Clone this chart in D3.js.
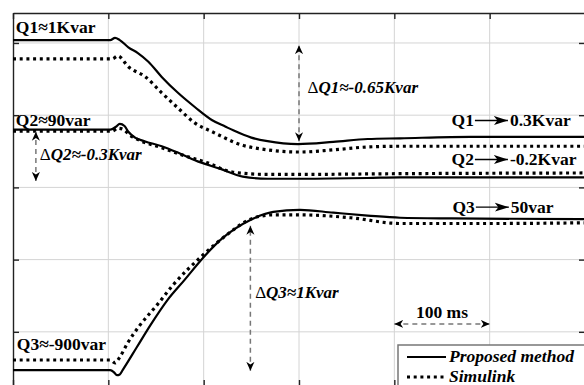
<!DOCTYPE html>
<head>
  <meta charset="utf-8">
  <style>
    body {
      margin: 0;
      background: #fff;
    }
    svg {
      display: block;
    }
  </style>
  <script src="https://cdn.jsdelivr.net/npm/d3@7"></script>
</head>
<body>
<div id=chart-container></div>

<script>
// time in ms, vertical value in grid divisions (the three traces are stacked)
const q1_proposed = [[0,5.04],[102,5.04],[107,5.07],[112,5.04],[121,4.94],[131,4.86],[142,4.74],[156,4.53],[173,4.31],[191,4.11],[209,3.93],[223,3.84],[231,3.79],[250,3.69],[267,3.64],[299,3.60],[336,3.63],[372,3.67],[406,3.68],[480,3.70],[600,3.70]]
const q1_simulink = [[0,4.78],[104,4.78],[110,4.82],[121,4.67],[139,4.53],[156,4.31],[173,4.10],[191,3.89],[209,3.77],[223,3.68],[231,3.63],[267,3.52],[301,3.49],[336,3.52],[372,3.56],[406,3.57],[500,3.57],[600,3.57]]
const q2_proposed = [[0,3.80],[102,3.80],[108,3.84],[112,3.88],[117,3.85],[121,3.77],[128,3.69],[138,3.64],[156,3.57],[175,3.47],[196,3.35],[217,3.26],[241,3.15],[267,3.12],[301,3.12],[372,3.13],[406,3.14],[600,3.14]]
const q2_simulink = [[0,3.78],[104,3.78],[110,3.82],[116,3.80],[123,3.72],[133,3.65],[156,3.55],[175,3.46],[204,3.34],[231,3.21],[267,3.18],[301,3.18],[406,3.19],[600,3.20]]
const q3_proposed = [[0,0.47],[102,0.47],[106,0.44],[109,0.40],[112,0.41],[115,0.47],[130,0.79],[144,1.09],[162,1.44],[180,1.72],[199,2.02],[220,2.30],[249,2.55],[273,2.66],[301,2.69],[336,2.65],[372,2.61],[406,2.58],[460,2.57],[600,2.56]]
const q3_simulink = [[0,0.61],[102,0.61],[107,0.57],[112,0.65],[120,0.84],[133,1.09],[151,1.37],[168,1.65],[199,2.06],[225,2.35],[249,2.56],[273,2.62],[301,2.62],[354,2.58],[406,2.50],[500,2.50],[600,2.51]]

const x_ticks = [0, 100, 200, 300, 400, 500, 600]
const y_ticks = [1, 2, 3, 4, 5]

// plain labels: [text, t, v]
const plain_labels = [
  ['Q1≈1Kvar', 3, 5.14],
  ['Q2≈90var', 3, 3.85],
  ['Q3≈-900var', 4, 0.75],
]
// delta labels: [rest of text after Δ, t, v]
const delta_labels = [
  ['Q1≈-0.65Kvar', 309, 4.31],
  ['Q2≈-0.3Kvar', 28, 3.38],
  ['Q3≈1Kvar', 254, 1.47],
]
// final value labels: [trace, value, t, v]
const final_labels = [
  ['Q1', '0.3Kvar', 460, 3.85],
  ['Q2', '-0.2Kvar', 460, 3.31],
  ['Q3', '50var', 461, 2.65],
]
// dashed arrows: [t0, v0, t1, v1]
const delta_arrows = [
  [300, 3.64, 300, 4.97],
  [24, 3.09, 24, 3.77],
  [249, 0.46, 249, 2.47],
  [400, 1.11, 500, 1.11],
]

const series = [
  { name: 'Proposed method', data: [q1_proposed, q2_proposed, q3_proposed], dash: null, width: 2.2 },
  { name: 'Simulink', data: [q1_simulink, q2_simulink, q3_simulink], dash: '3,3.7', width: 3.2 },
]

const width = 584
const height = 385
const m_left = 13, m_top = 13, m_right = 585, m_bottom = 386

const x = d3.scaleLinear().domain([0, 600]).range([m_left, m_right])
const y = d3.scaleLinear().domain([0.25, 5.415]).range([m_bottom, m_top])

const svg = d3.select('#chart-container')
.append('svg')
  .attr('width', width)
  .attr('height', height)
  .attr('viewBox', [0, 0, width, height])
  .attr('font-family', '"Liberation Serif", "Times New Roman", Times, "DejaVu Serif", serif')

const defs = svg.append('defs')
defs.append('marker')
  .attr('id', 'head')
  .attr('viewBox', '0 -5 10 10')
  .attr('refX', 10)
  .attr('markerUnits', 'userSpaceOnUse')
  .attr('markerWidth', 9)
  .attr('markerHeight', 9)
  .attr('orient', 'auto-start-reverse')
.append('path')
  .attr('d', 'M0,-4.5L10,0L0,4.5L3,0Z')
  .attr('fill', '#000')
defs.append('marker')
  .attr('id', 'head-big')
  .attr('viewBox', '0 -5 10 10')
  .attr('refX', 10)
  .attr('markerUnits', 'userSpaceOnUse')
  .attr('markerWidth', 14)
  .attr('markerHeight', 14)
  .attr('orient', 'auto')
.append('path')
  .attr('d', 'M0,-3.2L10,0L0,3.2L2.5,0Z')
  .attr('fill', '#000')

// grid
svg.append('g')
  .selectAll('line')
  .data(x_ticks.slice(1, -1))
  .join('line')
    .attr('x1', d => x(d)).attr('x2', d => x(d))
    .attr('y1', m_top).attr('y2', m_bottom)
    .attr('stroke', '#d4d4d4')
svg.append('g')
  .selectAll('line')
  .data(y_ticks)
  .join('line')
    .attr('x1', m_left).attr('x2', m_right)
    .attr('y1', d => y(d)).attr('y2', d => y(d))
    .attr('stroke', '#d4d4d4')

// frame with inward ticks
const frame = (axis, transform) => svg.append('g')
  .attr('transform', transform)
  .call(axis.tickSize(-6).tickSizeOuter(0).tickFormat(''))
  .call(g => g.selectAll('line, path').attr('stroke', '#222').attr('stroke-width', 1.4))
frame(d3.axisTop(x).tickValues(x_ticks), `translate(0,${m_top})`)
frame(d3.axisBottom(x).tickValues(x_ticks), `translate(0,${m_bottom})`)
frame(d3.axisLeft(y).tickValues(y_ticks), `translate(${m_left},0)`)
frame(d3.axisRight(y).tickValues(y_ticks), `translate(${m_right},0)`)

// traces
const line = d3.line()
  .x(d => x(d[0]))
  .y(d => y(d[1]))
  .curve(d3.curveMonotoneX)
series.forEach(s => {
  svg.append('g')
    .selectAll('path')
    .data(s.data)
    .join('path')
      .attr('d', line)
      .attr('fill', 'none')
      .attr('stroke', '#000')
      .attr('stroke-width', s.width)
      .attr('stroke-dasharray', s.dash)
})

// dashed annotation arrows
svg.append('g')
  .selectAll('line')
  .data(delta_arrows)
  .join('line')
    .attr('x1', d => x(d[0])).attr('y1', d => y(d[1]))
    .attr('x2', d => x(d[2])).attr('y2', d => y(d[3]))
    .attr('stroke', '#777')
    .attr('stroke-width', 1.5)
    .attr('stroke-dasharray', '5,4')
    .attr('marker-start', 'url(#head)')
    .attr('marker-end', 'url(#head)')

// labels
const label_g = svg.append('g')
  .attr('font-size', 17.5)
  .attr('font-weight', 'bold')
  .attr('fill', '#000')

label_g.selectAll('.plain')
  .data(plain_labels)
  .join('text')
    .attr('class', 'plain')
    .attr('x', d => x(d[1]))
    .attr('y', d => y(d[2]))
    .text(d => d[0])

label_g.selectAll('.delta')
  .data(delta_labels)
  .join('text')
    .attr('class', 'delta')
    .attr('x', d => x(d[1]))
    .attr('y', d => y(d[2]))
    .attr('font-size', 17)
    .call(t => t.append('tspan').attr('font-weight', 'normal').text('Δ'))
    .call(t => t.append('tspan').attr('font-style', 'italic').text(d => d[0]))

label_g.append('text')
  .attr('x', x(450))
  .attr('y', y(1.19))
  .attr('text-anchor', 'middle')
  .text('100 ms')

final_labels.forEach(d => {
  const tx = label_g.append('text')
    .attr('x', x(d[2]))
    .attr('y', y(d[3]))
    .text(d[0])
  const x0 = x(d[2]) + tx.node().getComputedTextLength() + 1
  const x1 = x0 + 33
  label_g.append('line')
    .attr('x1', x0).attr('x2', x1)
    .attr('y1', y(d[3]) - 5.5).attr('y2', y(d[3]) - 5.5)
    .attr('stroke', '#000')
    .attr('stroke-width', 1.3)
    .attr('marker-end', 'url(#head-big)')
  label_g.append('text')
    .attr('x', x1 + 2)
    .attr('y', y(d[3]))
    .text(d[1])
})

// legend
const legend = svg.append('g')
  .attr('transform', 'translate(398,345)')
legend.append('rect')
  .attr('width', 200)
  .attr('height', 60)
  .attr('fill', '#fff')
  .attr('stroke', '#777')
  .attr('stroke-width', 1.5)
const item = legend.selectAll('.item')
  .data(series)
  .join('g')
    .attr('class', 'item')
    .attr('transform', (d, i) => `translate(0,${12 + i * 20})`)
item.append('line')
  .attr('x1', 9).attr('x2', 48)
  .attr('stroke', '#000')
  .attr('stroke-width', d => d.width)
  .attr('stroke-dasharray', d => d.dash)
item.append('text')
  .attr('x', 51)
  .attr('y', 5)
  .attr('font-size', 17.5)
  .attr('font-weight', 'bold')
  .attr('font-style', 'italic')
  .text(d => d.name)
</script>
</body>
